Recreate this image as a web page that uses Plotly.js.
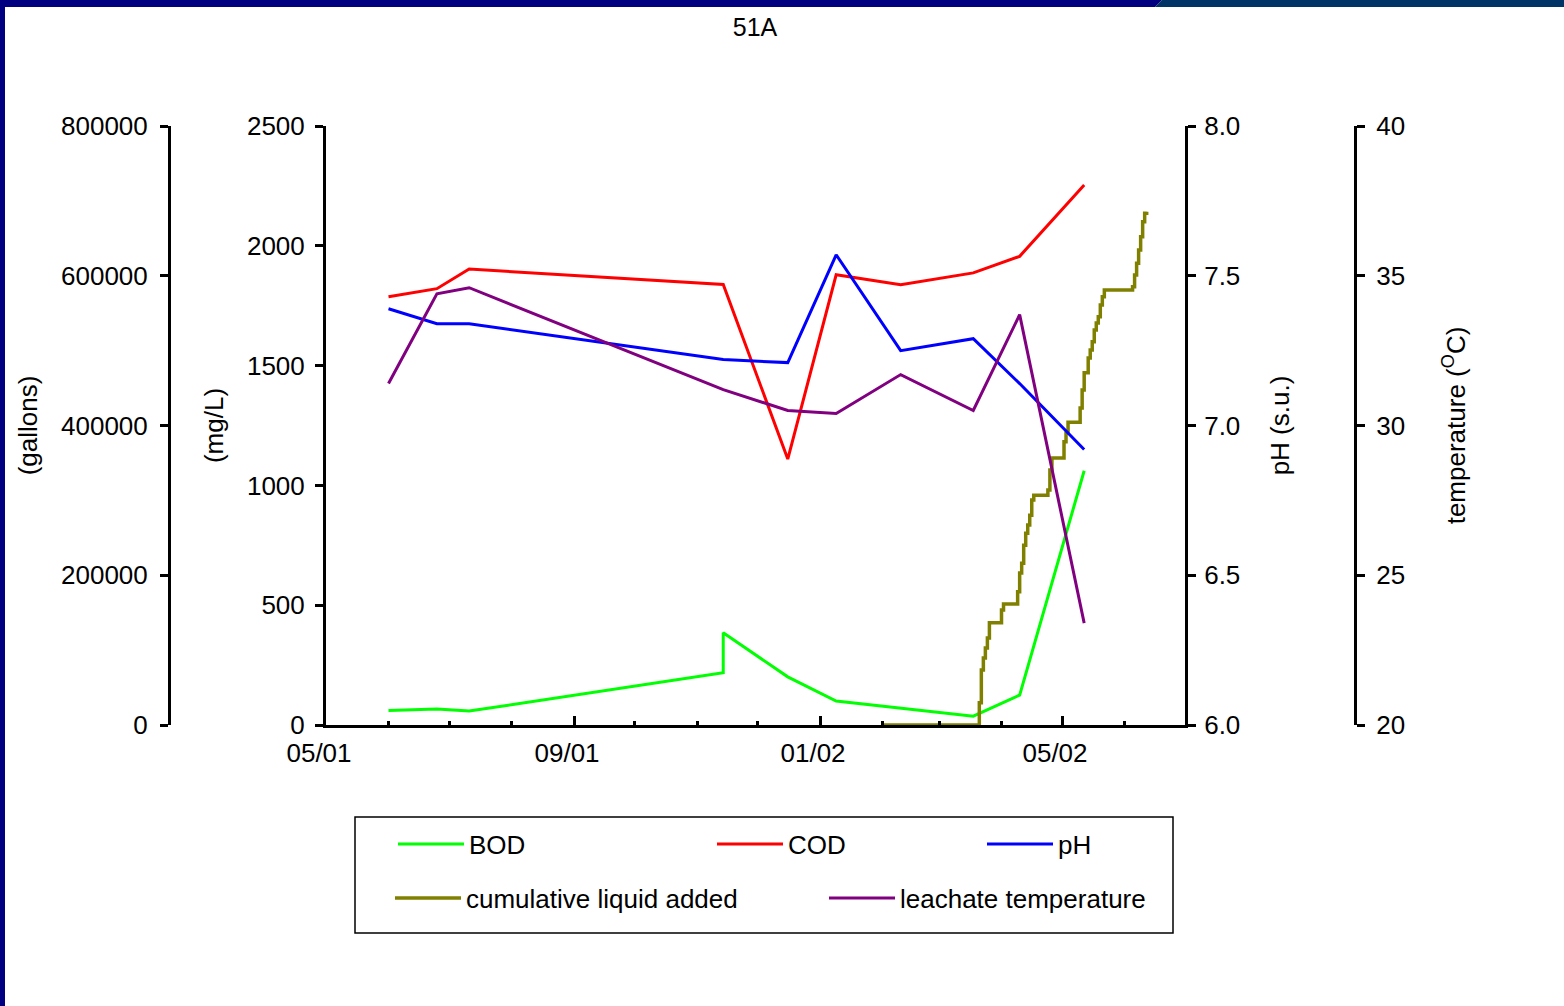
<!DOCTYPE html>
<html><head><meta charset="utf-8">
<script src="https://cdn.plot.ly/plotly-3.0.1.min.js"></script>
<style>html,body{margin:0;padding:0;background:#fff;overflow:hidden}#chart{width:1564px;height:1006px}</style>
</head><body><div id="chart"></div>
<script>
// ---- data ----
const sampleDates = ['2001-06-01','2001-06-25','2001-07-11','2001-11-14','2001-12-16','2002-01-09','2002-02-10','2002-03-18','2002-04-10','2002-05-12'];
const bodDates = ['2001-06-01','2001-06-25','2001-07-11','2001-11-14','2001-11-14','2001-12-16','2002-01-09','2002-03-18','2002-04-10','2002-05-12'];
const bodValues = [60, 67, 58, 218, 385, 201, 100, 37, 125, 1061];
const codValues = [1787, 1821, 1903, 1839, 1110, 1879, 1838, 1887, 1956, 2254];
const phValues = [7.39, 7.34, 7.34, 7.22, 7.21, 7.57, 7.25, 7.29, 7.14, 6.92];
const tempValues = [31.4, 34.4, 34.6, 31.2, 30.5, 30.4, 31.7, 30.5, 33.7, 23.4];
const liquidDates = ['2002-02-01','2002-03-21','2002-03-22','2002-03-23','2002-03-24','2002-03-25','2002-03-26',
  '2002-04-01','2002-04-02','2002-04-09','2002-04-10','2002-04-11','2002-04-12','2002-04-13','2002-04-14','2002-04-15',
  '2002-04-16','2002-04-17','2002-04-24','2002-04-25','2002-04-26','2002-05-02','2002-05-03','2002-05-04','2002-05-10',
  '2002-05-11','2002-05-12','2002-05-14','2002-05-15','2002-05-16','2002-05-17','2002-05-18','2002-05-19','2002-05-20',
  '2002-05-21','2002-05-22','2002-06-05','2002-06-06','2002-06-07','2002-06-08','2002-06-09','2002-06-10','2002-06-11','2002-06-12'];
const liquidValues = [0, 29800, 73500, 89500, 102800, 116200, 136600,
  153600, 161600, 178000, 203000, 216000, 240000, 256000, 267000, 280000,
  300500, 307000, 314000, 340600, 356600, 378400, 390000, 404300, 423400,
  447400, 470500, 490000, 500900, 512000, 527600, 537000, 545300, 561000,
  572000, 581000, 585400, 601000, 616700, 634400, 652000, 672000, 683400, 685600];
const seriesNames = ['BOD','COD','pH','cumulative liquid added','leachate temperature'];
const seriesColors = ['#00FF00','#FF0000','#0000FF','#808000','#800080'];
const xTickFormat = '%m/%y';
const chartTitle = '51A';
const axisTitles = ['(mg/L)','(gallons)','pH (s.u.)','temperature (<sup>O</sup>C)'];

// ---- layout helpers ----
const W = 1564, H = 1006;
const px = v => v / W;
const py = v => 1 - v / H;
const FONT = 'Liberation Sans, Arial, Helvetica, sans-serif';

const traces = [
  {x: bodDates, y: bodValues, name: seriesNames[0], yaxis: 'y', legend: 'legend'},
  {x: sampleDates, y: codValues, name: seriesNames[1], yaxis: 'y', legend: 'legend2'},
  {x: sampleDates, y: phValues, name: seriesNames[2], yaxis: 'y3', legend: 'legend3'},
  {x: liquidDates, y: liquidValues, name: seriesNames[3], yaxis: 'y2', legend: 'legend4', line: {shape: 'hv'}},
  {x: sampleDates, y: tempValues, name: seriesNames[4], yaxis: 'y4', legend: 'legend5'}
].map((t, i) => Object.assign({
  type: 'scatter', mode: 'lines', showlegend: true, hoverinfo: 'x+y+name'
}, t, {line: Object.assign({color: seriesColors[i], width: i === 3 ? 3.5 : 3}, t.line || {})}));

const yCommon = {
  ticks: 'outside', ticklen: 8, tickwidth: 3, tickcolor: '#000',
  showline: true, linewidth: 3, linecolor: '#000', showgrid: false, zeroline: false,
  tickfont: {size: 26, family: FONT, color: '#000'},
  fixedrange: true
};

function legendAt(x, y) {
  return {x: px(x), y: py(y), xanchor: 'left', yanchor: 'middle', xref: 'paper', yref: 'paper',
    bgcolor: 'rgba(0,0,0,0)', borderwidth: 0, itemwidth: 66,
    font: {size: 26, family: FONT, color: '#000'}};
}

const layout = {
  width: W, height: H,
  margin: {l: 0, r: 0, t: 0, b: 0, autoexpand: false},
  paper_bgcolor: '#ffffff', plot_bgcolor: 'rgba(0,0,0,0)',
  font: {family: FONT, size: 26, color: '#000'},
  title: {text: chartTitle, x: px(755), xanchor: 'center', xref: 'paper', y: py(27), yanchor: 'middle', yref: 'container',
    font: {size: 25, family: FONT, color: '#000'}},
  xaxis: {
    type: 'date', domain: [px(326), px(1185)], range: ['2001-05-01', '2002-07-01'],
    tick0: '2001-05-01', dtick: 'M4', tickformat: xTickFormat,
    ticks: 'inside', ticklen: 9, tickwidth: 3, tickcolor: '#000',
    showline: true, linewidth: 3, linecolor: '#000', showgrid: false, zeroline: false,
    ticklabelshift: -7, ticklabelstandoff: 3,
    tickfont: {size: 26, family: FONT, color: '#000'},
    minor: {ticks: 'inside', ticklen: 4, tickwidth: 3, tickcolor: '#000', dtick: 'M1', tick0: '2001-05-01', showgrid: false},
    fixedrange: true
  },
  yaxis: Object.assign({}, yCommon, {
    domain: [py(725), py(126)], range: [0, 2500], dtick: 500, tickformat: 'd', side: 'left', anchor: 'x',
    ticklabelstandoff: 5,
    title: {text: axisTitles[0], standoff: 16, font: {size: 26, family: FONT}}
  }),
  yaxis2: Object.assign({}, yCommon, {
    overlaying: 'y', anchor: 'free', position: px(169), side: 'left',
    range: [0, 800000], dtick: 200000, tickformat: 'd',
    ticklabelstandoff: 7,
    title: {text: axisTitles[1], standoff: 14, font: {size: 26, family: FONT}}
  }),
  yaxis3: Object.assign({}, yCommon, {
    overlaying: 'y', anchor: 'x', side: 'right',
    range: [6, 8], dtick: 0.5, tickformat: '.1f',
    ticklabelstandoff: 3,
    title: {text: axisTitles[2], standoff: 32, font: {size: 26, family: FONT}}
  }),
  yaxis4: Object.assign({}, yCommon, {
    overlaying: 'y', anchor: 'free', position: px(1355), side: 'right',
    range: [20, 40], dtick: 5, tickformat: 'd',
    ticklabelstandoff: 6,
    title: {text: axisTitles[3], standoff: 42, font: {size: 26, family: FONT}}
  }),
  legend: legendAt(393, 844),
  legend2: legendAt(712, 844),
  legend3: legendAt(982, 844),
  legend4: legendAt(390, 898),
  legend5: legendAt(824, 898),
  shapes: [
    // legend frame
    {type: 'rect', xref: 'paper', yref: 'paper', x0: px(355), x1: px(1173), y0: py(933), y1: py(817),
      line: {color: '#000', width: 1.5}, fillcolor: 'rgba(0,0,0,0)', layer: 'below'},
    // slide frame
    {type: 'rect', xref: 'paper', yref: 'paper', x0: 0, x1: px(5), y0: 0, y1: 1, line: {width: 0}, fillcolor: '#000080', layer: 'above'},
    {type: 'path', xref: 'paper', yref: 'paper', path: `M0,1 L${px(1162)},1 L${px(1155)},${py(7)} L0,${py(7)} Z`, line: {width: 0}, fillcolor: '#000080', layer: 'above'},
    {type: 'path', xref: 'paper', yref: 'paper', path: `M${px(1162)},1 L1,1 L1,${py(7)} L${px(1155)},${py(7)} Z`, line: {width: 0}, fillcolor: '#003366', layer: 'above'}
  ]
};

Plotly.newPlot('chart', traces, layout, {displayModeBar: false, staticPlot: false, responsive: false});
</script>
</body></html>
